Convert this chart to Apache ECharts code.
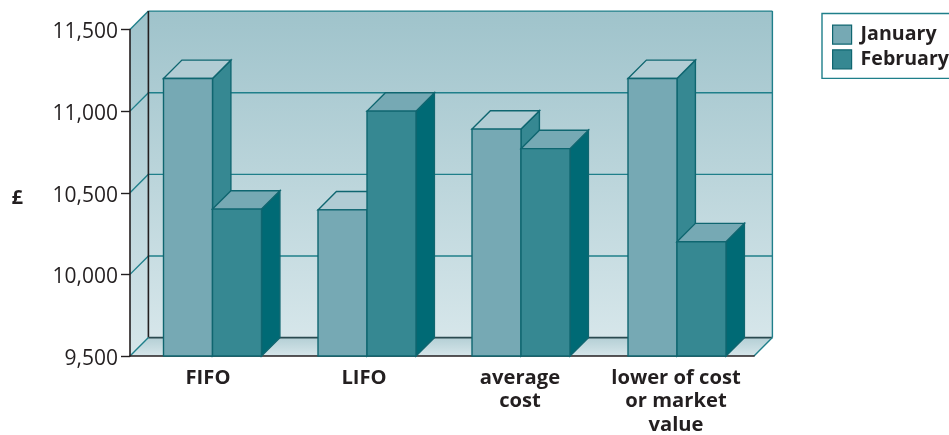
<!DOCTYPE html>
<html>
<head>
<meta charset="utf-8">
<style>html,body{margin:0;padding:0;background:#fff}#chart{width:949px;height:435px}</style>
<script src="https://cdn.jsdelivr.net/npm/echarts@6/dist/echarts.min.js"></script>
</head>
<body>
<div id="chart"></div>
<script>
// Closing inventory valuation by method, January and February
const categories = ['FIFO', 'LIFO', 'average\ncost', 'lower of cost\nor market\nvalue'];
const january = [11200, 10395, 10890, 11200];
const february = [10400, 11000, 10770, 10200];
const yTicks = [9500, 10000, 10500, 11000, 11500];

// Oblique projection of the box
const DEPTH = 18.4;
const BAR_W = 49;
const GROUP_SHIFT = [4.5, 3, 1, 1];

const INK = '#231f20';
const EDGE = '#0f6670';
const GRID_TEAL = '#1f7f8a';
const palette = {
  January: { front: '#76a9b4', side: '#368892', top: '#b1ccd4' },
  February: { front: '#368892', side: '#006a75', top: '#76a9b4' }
};

function poly(points, fill, stroke, lw) {
  return {
    type: 'polygon',
    shape: { points },
    style: { fill, stroke: stroke || null, lineWidth: lw || 0 }
  };
}
function line(x1, y1, x2, y2, stroke, lw) {
  return {
    type: 'line',
    shape: { x1, y1, x2, y2 },
    style: { stroke, lineWidth: lw, fill: null }
  };
}
function verticalFill(from, to) {
  return {
    type: 'linear', x: 0, y: 0, x2: 0, y2: 1,
    colorStops: [{ offset: 0, color: from }, { offset: 1, color: to }]
  };
}

// Back wall, side wall, floor and the grid lines that wrap around them
function renderRoom(params, api) {
  const c = params.coordSys;
  const l = c.x, r = c.x + c.width, t = c.y, b = c.y + c.height;
  const d = DEPTH;
  const kids = [
    poly([[l, t], [l + d, t - d], [l + d, b - d], [l, b]], verticalFill('#9fc3cb', '#d6e6ea')),
    poly([[l + d, t - d], [r + d, t - d], [r + d, b - d], [l + d, b - d]], verticalFill('#9fc3cb', '#d6e6ea')),
    poly([[l, b], [l + d, b - d], [r + d, b - d], [r, b]], verticalFill('#b4cfd5', '#d6e6ea'))
  ];
  yTicks.forEach(function (v, i) {
    const y = api.coord([0, v])[1];
    if (i > 0) {
      kids.push(line(l, y, l + d, y - d, GRID_TEAL, 1.4));
      kids.push(line(l + d, y - d, r + d, y - d, GRID_TEAL, 1.4));
    }
  });
  kids.push(line(l + d, t - d, l + d, b - d, INK, 1.6));
  kids.push(line(l + d, b - d, r + d, b - d, '#2a4a50', 1.6));
  kids.push(line(r + d, t - d, r + d, b - d, GRID_TEAL, 1.4));
  kids.push(line(l, b, l + d, b - d, GRID_TEAL, 1.4));
  kids.push(line(r, b, r + d, b - d, GRID_TEAL, 1.4));
  return { type: 'group', children: kids };
}

// One oblique box: front face, right side and top, placed through the axes
function renderBar(name, order) {
  return function (params, api) {
    const idx = api.value(0);
    const top = api.coord([idx, api.value(1)]);
    const base = api.coord([idx, yTicks[0]]);
    const cx = top[0] + GROUP_SHIFT[idx];
    const x0 = cx + (order - 1) * BAR_W;
    const x1 = x0 + BAR_W;
    const yt = top[1], yb = base[1];
    const p = palette[name];
    return {
      type: 'group',
      children: [
        poly([[x1, yb], [x1 + DEPTH, yb - DEPTH], [x1 + DEPTH, yt - DEPTH], [x1, yt]], p.side, EDGE, 1.4),
        poly([[x0, yt], [x0 + DEPTH, yt - DEPTH], [x1 + DEPTH, yt - DEPTH], [x1, yt]], p.top, EDGE, 1.4),
        poly([[x0, yb], [x0, yt], [x1, yt], [x1, yb]], p.front, EDGE, 1.4)
      ]
    };
  };
}

const toPairs = values => values.map((v, i) => [i, v]);

const chart = echarts.init(document.getElementById('chart'), null, { renderer: 'canvas' });
chart.setOption({
  animation: false,
  backgroundColor: '#fff',
  textStyle: { fontFamily: '"Open Sans", sans-serif' },
  grid: { left: 130, right: 195, top: 29.5, bottom: 79, outerBoundsMode: 'none' },
  legend: {
    data: [
      { name: 'January', itemStyle: { color: palette.January.front, borderColor: EDGE, borderWidth: 1.2 } },
      { name: 'February', itemStyle: { color: palette.February.front, borderColor: EDGE, borderWidth: 1.2 } }
    ],
    orient: 'vertical',
    left: 822,
    top: 13.5,
    padding: [11, 20, 9, 10],
    itemWidth: 19,
    itemHeight: 19,
    itemGap: 4.5,
    icon: 'rect',
    borderColor: GRID_TEAL,
    borderWidth: 1.4,
    textStyle: { color: INK, fontSize: 19.6, fontWeight: 'bold', padding: [0, 0, 0, 4], fontFamily: '"Open Sans", sans-serif' }
  },
  xAxis: {
    type: 'category',
    data: categories,
    axisLine: { lineStyle: { color: INK, width: 1.6 } },
    axisTick: { length: 9, lineStyle: { color: INK, width: 1.4 } },
    axisLabel: { color: INK, fontSize: 20.2, fontWeight: 'bold', lineHeight: 23.5, margin: 10, interval: 0 }
  },
  yAxis: {
    type: 'value',
    min: yTicks[0],
    max: yTicks[yTicks.length - 1],
    interval: 500,
    name: '£',
    nameLocation: 'middle',
    nameRotate: 0,
    nameGap: 107,
    nameTextStyle: { color: INK, fontSize: 20, fontWeight: 'bold', verticalAlign: 'top', padding: [-4, 0, 0, 0] },
    splitLine: { show: false },
    axisLine: { show: true, lineStyle: { color: INK, width: 1.6 } },
    axisTick: { show: true, length: 9, lineStyle: { color: INK, width: 1.4 } },
    axisLabel: {
      color: INK, fontSize: 21, margin: 12, verticalAlign: 'top', padding: [-7.5, 0, 0, 0],
      formatter: v => v.toLocaleString('en-GB')
    }
  },
  series: [
    { type: 'custom', name: 'room', z: 0, silent: true, clip: false, renderItem: renderRoom, data: [[0, yTicks[0]]], encode: { x: 0, y: 1 } },
    { type: 'custom', name: 'January', z: 3, clip: false, renderItem: renderBar('January', 0), data: toPairs(january), encode: { x: 0, y: 1 } },
    { type: 'custom', name: 'February', z: 4, clip: false, renderItem: renderBar('February', 1), data: toPairs(february), encode: { x: 0, y: 1 } }
  ]
});
</script>
</body>
</html>
